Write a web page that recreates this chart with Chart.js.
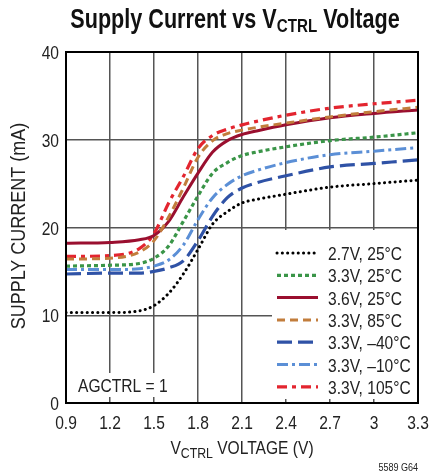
<!DOCTYPE html>
<html><head><meta charset="utf-8">
<script src="https://cdn.jsdelivr.net/npm/chart.js@4.4.0/dist/chart.umd.min.js"></script>
<style>html,body{margin:0;padding:0;background:#fff}#wrap{width:430px;height:475px;position:relative}</style>
</head><body><div id="wrap"><canvas id="c" width="430" height="475"></canvas></div>
<script>
const xVolts = [0.9, 1.2, 1.4, 1.5, 1.6, 1.7, 1.8, 1.9, 2.0, 2.1, 2.2, 2.4, 2.7, 3.0, 3.3];
const s27v25c  = [10.3, 10.3, 10.5, 11.1, 12.5, 14.7, 17.5, 20.4, 21.8, 22.8, 23.2, 23.8, 24.6, 25.0, 25.4];
const s33v25c  = [15.6, 15.7, 15.9, 16.5, 17.9, 20.7, 23.6, 26.2, 27.4, 28.2, 28.6, 29.2, 29.9, 30.3, 30.8];
const s36v25c  = [18.2, 18.3, 18.6, 19.1, 20.7, 23.5, 26.2, 28.6, 29.9, 30.6, 31.0, 31.7, 32.5, 33.0, 33.4];
const s33v85c  = [16.4, 16.5, 17.2, 18.5, 21.2, 24.5, 28.0, 29.9, 30.7, 31.1, 31.4, 31.9, 32.6, 33.2, 33.7];
const s33vm40c = [14.7, 14.8, 14.8, 15.0, 15.4, 16.2, 18.5, 21.3, 23.4, 24.5, 25.1, 25.9, 26.9, 27.3, 27.7];
const s33vm10c = [15.2, 15.2, 15.3, 15.6, 16.3, 18.0, 20.9, 23.4, 24.9, 25.9, 26.5, 27.4, 28.3, 28.7, 29.1];
const s33v105c = [16.7, 16.8, 17.6, 19.3, 22.8, 25.8, 29.0, 30.5, 31.2, 31.7, 32.1, 32.8, 33.6, 34.1, 34.5];
const seriesLabels = ["2.7V, 25°C", "3.3V, 25°C", "3.6V, 25°C", "3.3V, 85°C", "3.3V, –40°C", "3.3V, –10°C", "3.3V, 105°C"];
const xTickLabels = ["0.9", "1.2", "1.5", "1.8", "2.1", "2.4", "2.7", "3", "3.3"];
const yTickLabels = ["0", "10", "20", "30", "40"];

const FONT = "'Liberation Sans',Arial,sans-serif";
const SX = 0.82;
const styles = [
  {color:"#000000", dash:[0.1,5.2], cap:"round", w:3},
  {color:"#3a9548", dash:[4,3], cap:"butt", w:3.2},
  {color:"#9a0f2f", dash:[], cap:"butt", w:3},
  {color:"#c27d3c", dash:[8,5], cap:"butt", w:3},
  {color:"#2f52a6", dash:[15,6], cap:"butt", w:3.2},
  {color:"#5b8fd6", dash:[11,4,3,4], cap:"butt", w:3},
  {color:"#e3252f", dash:[10,5,4,5], cap:"butt", w:3.2}
];
const allSeries = [s27v25c, s33v25c, s36v25c, s33v85c, s33vm40c, s33vm10c, s33v105c];
const datasets = allSeries.map((arr,i)=>({
  label: seriesLabels[i],
  data: arr.map((v,j)=>({x:xVolts[j], y:v})),
  borderColor: styles[i].color,
  borderWidth: styles[i].w,
  borderDash: styles[i].dash,
  borderCapStyle: styles[i].cap,
  pointRadius: 0,
  fill: false,
  cubicInterpolationMode: 'monotone'
}));
const order = [0,4,5,1,3,2,6];
const orderedDatasets = order.map(i=>datasets[i]);

function fontStr(size,bold){return (bold?"bold ":"")+size+"px "+FONT;}
function drawRuns(ctx, parts, x, y, align, sx){
  sx = sx||SX;
  let total=0;
  parts.forEach(p=>{ctx.font=fontStr(p.size,p.bold); p.w=ctx.measureText(p.t).width*sx; total+=p.w;});
  let x0 = align==='center'? x-total/2 : (align==='right'? x-total : x);
  parts.forEach(p=>{
    ctx.save(); ctx.font=fontStr(p.size,p.bold); ctx.textAlign='left';
    ctx.translate(x0, y+(p.dy||0)); ctx.scale(sx,1); ctx.fillText(p.t,0,0); ctx.restore();
    x0+=p.w;
  });
}

const decor = {
  id:'decor',
  beforeDatasetsDraw(chart){
    const ctx = chart.ctx;
    ctx.save();
    ctx.fillStyle='#fff';
    ctx.fillRect(272, 230, 145, 169);
    ctx.fillRect(76, 373, 90, 24);
    ctx.restore();
  },
  afterDraw(chart){
    const ctx = chart.ctx;
    const a = chart.chartArea;
    const xs = chart.scales.x, ys = chart.scales.y;
    ctx.save();
    ctx.strokeStyle='#000'; ctx.lineWidth=2;
    ctx.strokeRect(a.left, a.top, a.right-a.left, a.bottom-a.top);
    ctx.fillStyle='#111'; ctx.textBaseline='alphabetic';
    drawRuns(ctx, [{t:"Supply Current vs V",size:27,bold:true},{t:"CTRL",size:19,bold:true,dy:4},{t:" Voltage",size:27,bold:true}], 235, 28, 'center', 0.8);
    ctx.fillStyle='#222';
    xTickLabels.forEach(t=>{ drawRuns(ctx,[{t:t,size:19}], xs.getPixelForValue(parseFloat(t)), 429, 'center'); });
    yTickLabels.forEach(t=>{ drawRuns(ctx,[{t:t,size:19}], 59, ys.getPixelForValue(parseFloat(t))+7, 'right'); });
    drawRuns(ctx, [{t:"V",size:19},{t:"CTRL",size:15,dy:4},{t:" VOLTAGE (V)",size:19}], 242, 454, 'center');
    ctx.save();
    ctx.translate(25, 226); ctx.rotate(-Math.PI/2);
    drawRuns(ctx, [{t:"SUPPLY CURRENT (mA)",size:20}], 0, 0, 'center', 0.9);
    ctx.restore();
    drawRuns(ctx, [{t:"AGCTRL = 1",size:19}], 78, 392, 'left');
    drawRuns(ctx, [{t:"5589 G64",size:11}], 418, 471, 'right');
    const rowY0 = 253, dy = 22.3;
    for(let k=0;k<datasets.length;k++){
      const d = datasets[k]; const y = rowY0 + k*dy;
      ctx.save();
      ctx.strokeStyle=d.borderColor; ctx.lineWidth=d.borderWidth; ctx.setLineDash(d.borderDash); ctx.lineCap=d.borderCapStyle;
      ctx.beginPath(); ctx.moveTo(277,y); ctx.lineTo(318,y); ctx.stroke();
      ctx.restore();
      ctx.fillStyle='#222';
      drawRuns(ctx, [{t:d.label,size:19}], 328, y+7, 'left');
    }
    ctx.restore();
  }
};

new Chart(document.getElementById('c'), {
  type:'line',
  data:{datasets: orderedDatasets},
  options:{
    responsive:false, animation:false,
    layout:{padding:{left:0, right:12, top:52, bottom:0}},
    plugins:{legend:{display:false}, title:{display:false}, tooltip:{enabled:false}},
    scales:{
      x:{type:'linear', min:0.9, max:3.3,
        afterBuildTicks(s){ s.ticks = xTickLabels.map(v=>({value:parseFloat(v)})); },
        afterFit(s){ s.height = 72; },
        ticks:{display:false},
        grid:{color:'#555', lineWidth:1.5, drawTicks:false}, border:{display:false}
      },
      y:{type:'linear', min:0, max:40,
        afterBuildTicks(s){ s.ticks = yTickLabels.map(v=>({value:parseFloat(v)})); },
        afterFit(s){ s.width = 66; },
        ticks:{display:false},
        grid:{color:'#555', lineWidth:1.5, drawTicks:false}, border:{display:false}
      }
    }
  },
  plugins:[decor]
});
</script></body></html>
